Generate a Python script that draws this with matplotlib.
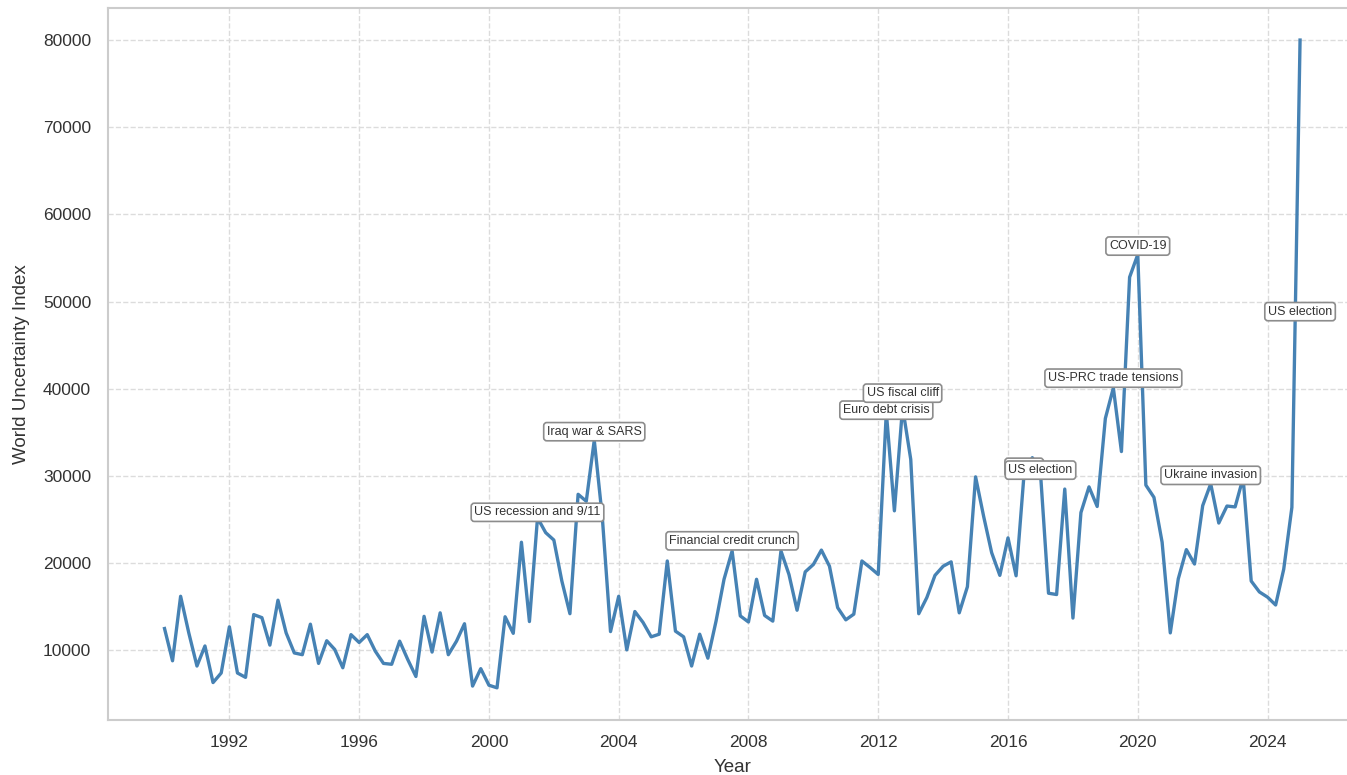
#%%imports
import matplotlib
matplotlib.use("Agg")
import matplotlib.pyplot as plt
import matplotlib.dates as mdates
import numpy as np
import pandas as pd

#%%data
#quarterly world uncertainty index, 1990Q1 - 2025Q1
start = "1990-01-01"
wui = [
    12500, 8800, 16200, 12000,      #1990
    8200, 10500, 6300, 7400,        #1991
    12700, 7400, 6900, 14100,       #1992
    13750, 10600, 15750, 12000,     #1993
    9700, 9500, 13000, 8500,        #1994
    11100, 10100, 8000, 11800,      #1995
    10900, 11800, 9900, 8500,       #1996
    8400, 11050, 8950, 7000,        #1997
    13900, 9800, 14300, 9500,       #1998
    11050, 13050, 5900, 7900,       #1999
    6000, 5700, 13850, 11950,       #2000
    22400, 13300, 25200, 23500,     #2001
    22650, 17950, 14200, 27900,     #2002
    27100, 34100, 25200, 12150,     #2003
    16200, 10050, 14450, 13200,     #2004
    11550, 11850, 20250, 12200,     #2005
    11550, 8200, 11850, 9100,       #2006
    13350, 18150, 21400, 13950,     #2007
    13250, 18150, 14000, 13350,     #2008
    21400, 18700, 14600, 19000,     #2009
    19850, 21500, 19650, 14900,     #2010
    13500, 14150, 20250, 19500,     #2011
    18700, 37300, 26000, 37900,     #2012
    31900, 14200, 16050, 18600,     #2013
    19650, 20150, 14300, 17300,     #2014
    29900, 25400, 21200, 18600,     #2015
    22900, 18550, 30400, 32100,     #2016
    30300, 16550, 16400, 28500,     #2017
    13700, 25800, 28750, 26500,     #2018
    36600, 40100, 32800, 52800,     #2019
    55400, 28950, 27550, 22400,     #2020
    12000, 18200, 21550, 19900,     #2021
    26600, 29100, 24600, 26550,     #2022
    26450, 29800, 17950, 16700,     #2023
    16100, 15200, 19300, 26400,     #2024
    80000,                          #2025
]

#event labels and where their boxes sit (date, index value)
ev_labels = ["US recession and 9/11", "Iraq war & SARS", "Financial credit crunch",
             "Euro debt crisis", "US fiscal cliff", "Brexit", "US election",
             "US-PRC trade tensions", "COVID-19", "Ukraine invasion", "US election"]
ev_dates  = ["2001-07-01", "2003-04-01", "2007-07-01", "2012-04-01", "2012-10-01",
             "2016-07-01", "2017-01-01", "2019-04-01", "2020-01-01", "2022-04-01",
             "2025-01-01"]
ev_y      = [25830, 35080, 22560, 37550, 39500, 31000, 30670, 41220, 56370, 30070, 48850]

#%%plot
plt.rcParams["font.family"] = ["Liberation Sans", "DejaVu Sans"]

dates = pd.date_range(start, periods=len(wui), freq="QS")

fig = plt.figure(figsize=(13.47, 7.75), dpi=100)
ax = fig.add_axes([0.080, 0.0707, 0.9273, 0.9194])

ax.plot(dates, wui, color="steelblue", lw=2.4, zorder=3)

#annotations
for lab, d, y in zip(ev_labels, ev_dates, ev_y):
    ax.text(pd.Timestamp(d), y, lab, fontsize=9, color="#333333", ha="center", va="center", zorder=4,
            bbox=dict(boxstyle="round,pad=0.25", fc="white", ec="#8c8c8c", lw=1.2))

#axes styling
ax.xaxis.set_major_locator(mdates.YearLocator(4))
ax.xaxis.set_major_formatter(mdates.DateFormatter("%Y"))
ax.grid(True, linestyle="--", color="#dcdcdc", lw=1.0)
ax.set_axisbelow(True)
for s in ax.spines.values():
    s.set_color("#cccccc")
    s.set_linewidth(1.5)
ax.tick_params(axis="x", length=0, pad=11, labelsize=12.5, labelcolor="#333333")
ax.tick_params(axis="y", length=0, pad=12, labelsize=12.5, labelcolor="#333333")
ax.set_xlabel("Year", fontsize=13.5, color="#333333", labelpad=6)
ax.set_ylabel("World Uncertainty Index", fontsize=13.5, color="#333333", labelpad=9)

fig.savefig("out.png", dpi=100)
